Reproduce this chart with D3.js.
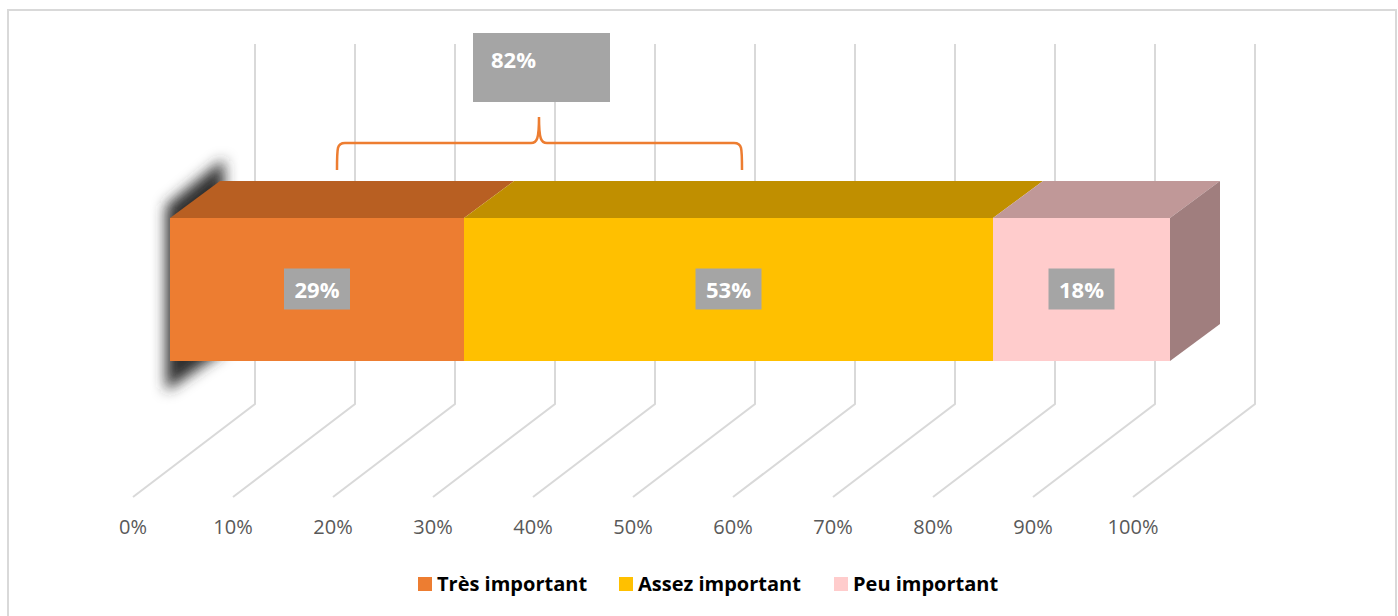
<!DOCTYPE html>
<html>
<head>
<meta charset="utf-8">
<script src="https://cdn.jsdelivr.net/npm/d3@7"></script>
<style>
  body { margin: 0; background: #fff; }
  svg { display: block; }
</style>
</head>
<body>
<div id="chart"></div>
<script>
// data
const categories = ["Très important", "Assez important", "Peu important"];
const values = [29.4, 52.9, 17.7];
const valueLabels = ["29%", "53%", "18%"];
const tickValues = [0, 10, 20, 30, 40, 50, 60, 70, 80, 90, 100];
const totalLabel = "82%";

const frontColors = ["#ed7d31", "#ffc000", "#ffcccc"];
const topColors = ["#b85f22", "#c08f00", "#c09898"];
const sideColor = "#a07e7e";

const width = 1398, height = 616;

const svg = d3.select("#chart").append("svg")
    .attr("width", width)
    .attr("height", height);

// outer chart border
svg.append("rect")
    .attr("x", 8).attr("y", 10)
    .attr("width", 1388).attr("height", 620)
    .attr("fill", "none")
    .attr("stroke", "#d9d9d9")
    .attr("stroke-width", 2);

// floor scale (front edge) and wall offset
const xFloor = d3.scaleLinear().domain([0, 100]).range([133, 1133]);
const wallDx = 122, wallDy = -93;
const floorY = 497, wallTop = 44;

// gridlines: vertical on back wall, diagonal on floor
const grid = svg.append("g");
grid.selectAll("path")
    .data(tickValues)
    .enter()
    .append("path")
    .attr("d", function(d) {
        var fx = xFloor(d);
        return "M" + (fx + wallDx) + "," + wallTop +
            "L" + (fx + wallDx) + "," + (floorY + wallDy) +
            "L" + fx + "," + floorY;
    })
    .attr("fill", "none")
    .attr("stroke", "#d9d9d9")
    .attr("stroke-width", 2);

// tick labels
svg.append("g").selectAll("text")
    .data(tickValues)
    .enter()
    .append("text")
    .attr("x", function(d) { return xFloor(d); })
    .attr("y", 534)
    .attr("text-anchor", "middle")
    .style("font-family", "'Open Sans', sans-serif")
    .style("font-size", "20px")
    .style("fill", "#595959")
    .text(function(d) { return d + "%"; });

// bar scale
const x = d3.scaleLinear().domain([0, 100]).range([170, 1170]);
const barTop = 218, barBottom = 361;
const depthDx = 50, depthDy = -37;

// stacked values
var stack = [];
var acc = 0;
for (var i = 0; i < values.length; i++) {
    stack.push({ start: acc, end: acc + values[i], i: i });
    acc += values[i];
}

// blurred shadow on the left end
const defs = svg.append("defs");
defs.append("filter")
    .attr("id", "blur")
    .attr("filterUnits", "userSpaceOnUse")
    .attr("x", 100).attr("y", 100)
    .attr("width", 200).attr("height", 360)
    .append("feGaussianBlur")
    .attr("stdDeviation", 7);

svg.append("path")
    .attr("d", "M" + (x(0) - 4) + "," + (barTop - 12) +
        "L" + (x(0) + depthDx + 4) + "," + (barTop + depthDy - 22) +
        "L" + (x(0) + depthDx + 4) + "," + (barBottom - 10) +
        "L" + (x(0) - 4) + "," + (barBottom + 30) + "Z")
    .attr("fill", "#2f2f2f")
    .attr("filter", "url(#blur)");

const bar = svg.append("g");

// top faces
bar.selectAll(".top")
    .data(stack)
    .enter()
    .append("path")
    .attr("class", "top")
    .attr("d", function(d) {
        return "M" + x(d.start) + "," + barTop +
            "L" + (x(d.start) + depthDx) + "," + (barTop + depthDy) +
            "L" + (x(d.end) + depthDx) + "," + (barTop + depthDy) +
            "L" + x(d.end) + "," + barTop + "Z";
    })
    .attr("fill", function(d) { return topColors[d.i]; });

// right side face
bar.append("path")
    .attr("d", "M" + x(100) + "," + barTop +
        "L" + (x(100) + depthDx) + "," + (barTop + depthDy) +
        "L" + (x(100) + depthDx) + "," + (barBottom + depthDy) +
        "L" + x(100) + "," + barBottom + "Z")
    .attr("fill", sideColor);

// front faces
bar.selectAll(".front")
    .data(stack)
    .enter()
    .append("rect")
    .attr("class", "front")
    .attr("x", function(d) { return x(d.start); })
    .attr("y", barTop)
    .attr("width", function(d) { return x(d.end) - x(d.start); })
    .attr("height", barBottom - barTop)
    .attr("fill", function(d) { return frontColors[d.i]; });

// data labels
const lab = svg.append("g").selectAll("g")
    .data(stack)
    .enter()
    .append("g")
    .attr("transform", function(d) {
        return "translate(" + x((d.start + d.end) / 2) + "," + ((barTop + barBottom) / 2) + ")";
    });
lab.append("rect")
    .attr("x", -33).attr("y", -21)
    .attr("width", 66).attr("height", 41)
    .attr("fill", "#a5a5a5");
lab.append("text")
    .attr("y", 8)
    .attr("text-anchor", "middle")
    .style("font-family", "'Open Sans', sans-serif")
    .style("font-weight", "bold")
    .style("font-size", "22px")
    .style("fill", "#fff")
    .text(function(d) { return valueLabels[d.i]; });

// brace over first two segments
var braceL = 337, braceR = 742, braceMid = 539, braceY = 143, braceBottom = 170, braceTip = 117;
svg.append("path")
    .attr("d", "M" + braceL + "," + braceBottom +
        "C" + braceL + "," + (braceY + 4) + " " + braceL + "," + braceY + " " + (braceL + 8) + "," + braceY +
        "L" + (braceMid - 8) + "," + braceY +
        "C" + (braceMid - 2) + "," + braceY + " " + braceMid + "," + (braceY - 4) + " " + braceMid + "," + braceTip +
        "C" + braceMid + "," + (braceY - 4) + " " + (braceMid + 2) + "," + braceY + " " + (braceMid + 8) + "," + braceY +
        "L" + (braceR - 8) + "," + braceY +
        "C" + braceR + "," + braceY + " " + braceR + "," + (braceY + 4) + " " + braceR + "," + braceBottom)
    .attr("fill", "none")
    .attr("stroke", "#ed7d31")
    .attr("stroke-width", 2.5);

// total label box
svg.append("rect")
    .attr("x", 473).attr("y", 33)
    .attr("width", 137).attr("height", 69)
    .attr("fill", "#a5a5a5");
svg.append("text")
    .attr("x", 491).attr("y", 68)
    .style("font-family", "'Open Sans', sans-serif")
    .style("font-weight", "bold")
    .style("font-size", "22px")
    .style("fill", "#fff")
    .text(totalLabel);

// legend
const legendX = [418, 619, 834];
const legend = svg.append("g").selectAll("g")
    .data(categories)
    .enter()
    .append("g")
    .attr("transform", function(d, i) { return "translate(" + legendX[i] + ",577)"; });
legend.append("rect")
    .attr("width", 14).attr("height", 14)
    .attr("fill", function(d, i) { return frontColors[i]; });
legend.append("text")
    .attr("x", 19).attr("y", 14)
    .style("font-family", "'Open Sans', sans-serif")
    .style("font-weight", "bold")
    .style("font-size", "20px")
    .style("fill", "#000")
    .text(function(d) { return d; });
</script>
</body>
</html>
